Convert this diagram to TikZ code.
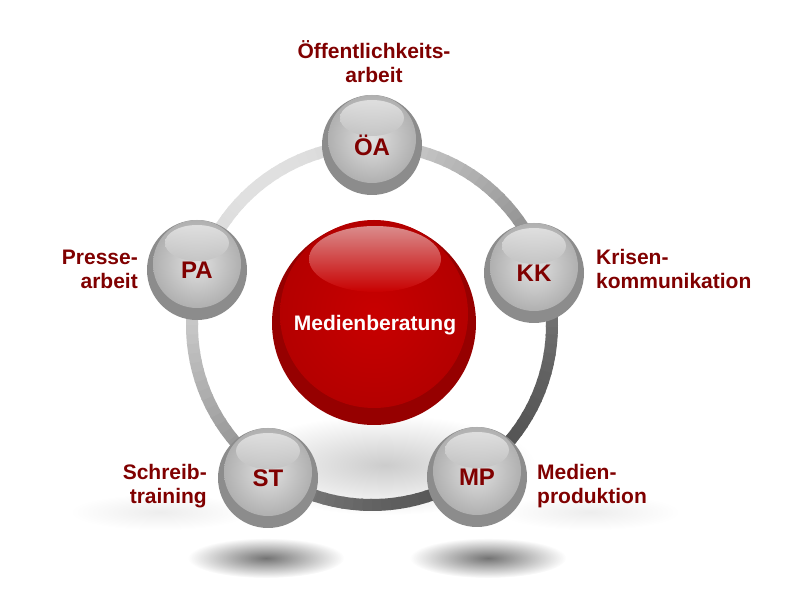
\documentclass[tikz,border=0pt]{standalone}
\usepackage{fontspec}
\setmainfont{Liberation Sans}
\usepackage{tikz}
\usetikzlibrary{fadings}

\definecolor{labelred}{HTML}{800000}
\definecolor{ballred}{HTML}{C80000}
\definecolor{bodyred}{HTML}{B40000}
\definecolor{rimred}{HTML}{960000}
\definecolor{glossred}{HTML}{DA8C8C}
\tikzfading[name=softshadow, inner color=transparent!0, outer color=transparent!100]

\begin{document}
\begin{tikzpicture}[x=1pt,y=-1pt,
  sidetext/.style={text=labelred, inner sep=0pt, font=\fontsize{21}{24}\selectfont\bfseries},
  balltext/.style={text=labelred, inner sep=0pt, font=\fontsize{24}{26}\selectfont\bfseries},
  softshade/.style={fill=black, path fading=softshadow},
  ]
  \useasboundingbox (0,0) rectangle (785,609);

  % shadows
  \fill[softshade, opacity=.55] (266,558) ellipse (78 and 20);
  \fill[softshade, opacity=.55] (488,558) ellipse (78 and 20);
  \fill[softshade, opacity=.2] (385,465) ellipse (150 and 50);
  \fill[softshade, opacity=.07] (160,512) ellipse (90 and 18);
  \fill[softshade, opacity=.07] (590,512) ellipse (90 and 18);

  % ring
  \foreach \a in {0,3,...,357}{
    \pgfmathsetmacro\p{12+55*(1+cos(\a-50))/2}
    \draw[line width=12pt, black!\p, shift={(372,325)}] (\a:180) arc[start angle=\a, end angle=\a+3.6, radius=180];
  }

  % centre
  \fill[rimred] (374,323) circle (102);
  \shade[inner color=ballred, outer color=bodyred] (374,314) circle (94);
  \shade[top color=glossred, bottom color=ballred] (375,259) ellipse (66 and 33);
  \node[text=white, font=\fontsize{21}{24}\selectfont\bfseries] (mb) at (375,325) {Medienberatung};

  % balls
  \foreach \n/\x/\y/\t in {oa/372/145/ÖA, kk/534/273/KK, pa/197/270/PA, st/268/478/ST, mp/477/477/MP}{
    \fill[black!45] (\x,\y) circle (50);
    \shade[inner color=black!12, outer color=black!31] (\x,\y-6) circle (44);
    \shade[top color=black!10, bottom color=black!24, opacity=.85] (\x,\y-27) ellipse (32 and 18);
    \node[balltext] (\n) at (\x,\y) {\t};
  }

  \node[sidetext, align=center] (oalabel) at (374,62) {Öffentlichkeits-\\arbeit};
  \node[sidetext, align=right, anchor=east] (palabel) at (138,269) {Presse-\\arbeit};
  \node[sidetext, align=left, anchor=west] (kklabel) at (596,269) {Krisen-\\kommunikation};
  \node[sidetext, align=right, anchor=east] (stlabel) at (207,486) {Schreib-\\training};
  \node[sidetext, align=left, anchor=west] (mplabel) at (537,486) {Medien-\\produktion};

\end{tikzpicture}
\end{document}
